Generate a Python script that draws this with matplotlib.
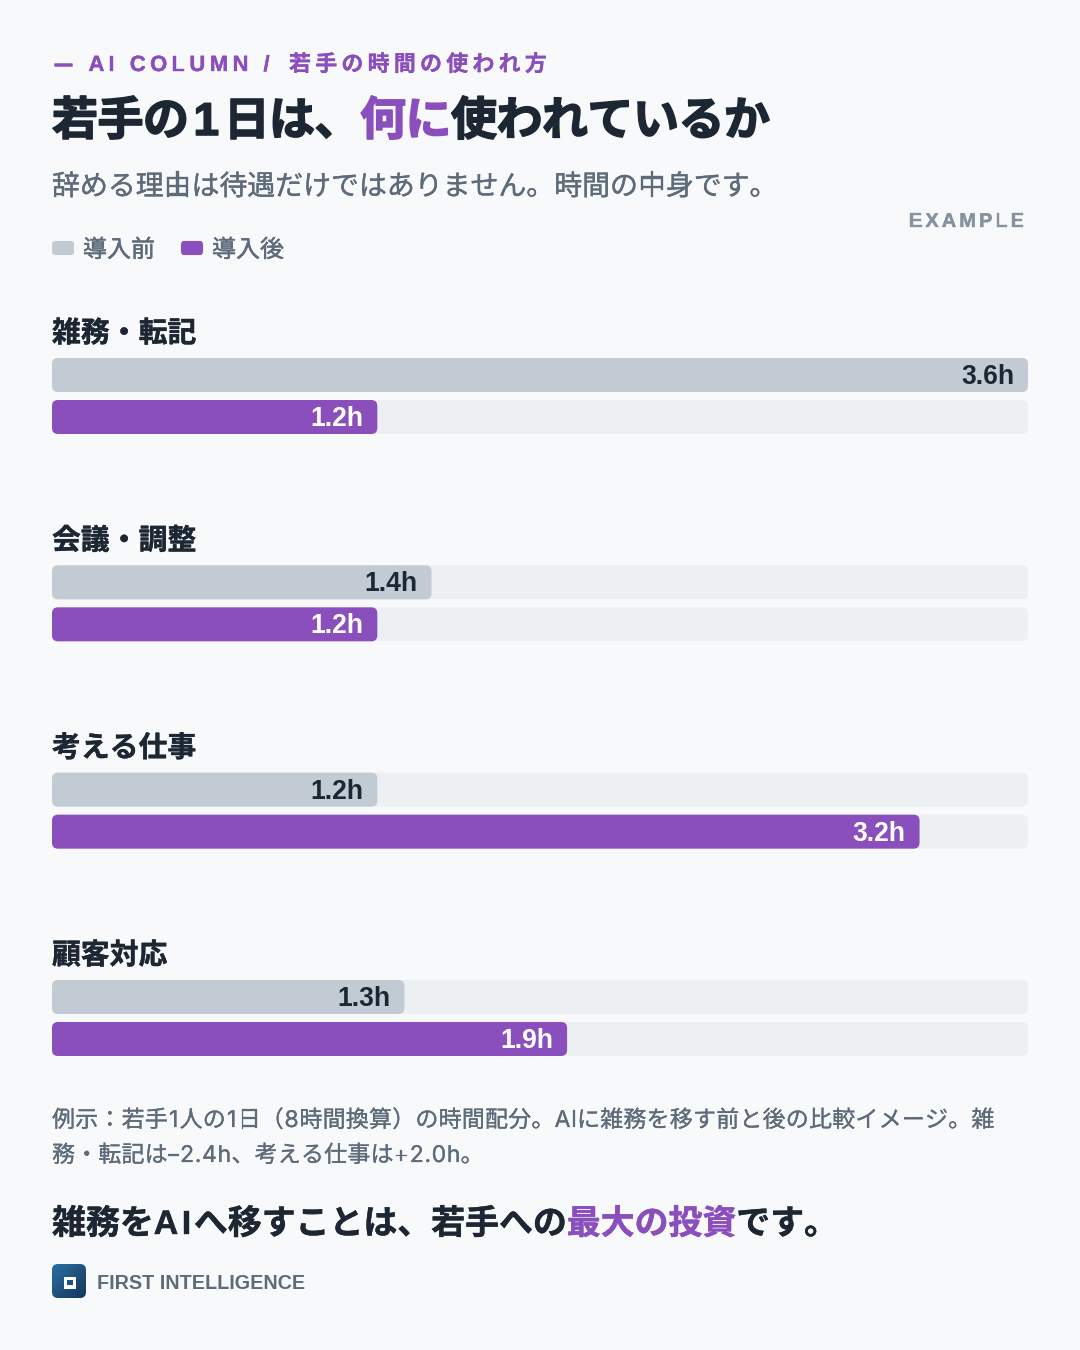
import numpy as np
import matplotlib
matplotlib.use("Agg")
import matplotlib.pyplot as plt
import matplotlib.patheffects as pe
from matplotlib.patches import FancyBboxPatch
from matplotlib.text import Text
from matplotlib.font_manager import FontProperties
from matplotlib.transforms import Bbox, IdentityTransform

categories = ["雑務・転記", "会議・調整", "考える仕事", "顧客対応"]
before_hours = [3.6, 1.4, 1.2, 1.3]
after_hours = [1.2, 1.2, 3.2, 1.9]
legend_labels = ["導入前", "導入後"]
scale_max = 3.6

W, H = 1080, 1350
BG = "#f8f9fb"; TRACK = "#edf0f3"; BEFORE = "#c2cad4"; AFTER = "#8a4fbd"
DARK = "#1c2733"; GRAY = "#5d6b7a"; LIGHTGRAY = "#87929f"
FAM = ["Liberation Sans", "Noto Sans CJK JP"]
FAM_INTER = ["Inter", "Noto Sans CJK JP"]

fig = plt.figure(figsize=(W / 100, H / 100), dpi=100, facecolor=BG)
renderer = fig.canvas.get_renderer()


def fp(size_px, weight, family=FAM):
    return FontProperties(family=family, weight=weight, size=size_px * 0.72)


def advance(c, prop):
    a = renderer.get_text_width_height_descent("H" + c + "H", prop, False)[0]
    b = renderer.get_text_width_height_descent("HH", prop, False)[0]
    return a - b


def stroke_fx(width, color):
    return [pe.withStroke(linewidth=width * 0.72, foreground=color)] if width else []


class TrackedText(Text):
    """One text artist whose glyphs are drawn with letter spacing."""

    def __init__(self, x_px, y_px, s, prop, color, tracking, wide=None, stroke=0.0):
        super().__init__(x_px, H - y_px, s, fontproperties=prop, color=color,
                         ha="left", va="baseline", transform=IdentityTransform())
        self.tracking = tracking
        self.wide = wide or {}
        self.stroke = stroke

    def steps(self):
        prop = self.get_fontproperties()
        x = 0.0
        for c in self.get_text():
            pad = self.wide.get(c, 0.0)
            x += pad / 2
            yield c, x
            x += advance(c, prop) + self.tracking + pad / 2

    def total_width(self):
        prop = self.get_fontproperties()
        return sum(advance(c, prop) + self.tracking + self.wide.get(c, 0.0) for c in self.get_text())

    def draw(self, rend):
        x, y = self.get_position()
        for c, dx in self.steps():
            if c != " ":
                g = Text(x + dx, y, c, fontproperties=self.get_fontproperties(), color=self.get_color(),
                         ha="left", va="baseline", transform=IdentityTransform())
                g.set_figure(self.get_figure())
                g.set_path_effects(stroke_fx(self.stroke, self.get_color()))
                g.draw(rend)

    def get_window_extent(self, renderer=None, dpi=None):
        x, y = self.get_position()
        size = self.get_fontproperties().get_size_in_points() / 0.72
        return Bbox.from_extents(x, y - 0.12 * size, x + self.total_width(), y + 0.88 * size)


def put(x, y, segments, size, weight, tracking=0.0, wide=None, stroke=0.0, family=FAM):
    prop = fp(size, weight, family)
    for s, color in segments:
        t = TrackedText(x, y, s, prop, color, tracking, wide, stroke)
        fig.add_artist(t)
        t.set_transform(IdentityTransform())
        x += t.total_width()
    return x


# header
put(55, 69.5, [("—", AFTER)], 17, "bold", stroke=1.5)
put(88.5, 71, [("AI COLUMN / ", AFTER)], 22, "bold", 4.4, stroke=0.4)
put(289, 71, [("若手の時間の使われ方", AFTER)], 22, "bold", 4.2, stroke=0.2)
put(52, 135, [("若手の1日は、", DARK), ("何に", AFTER), ("使われているか", DARK)], 46, "bold", -0.5,
    wide={"1": 10}, stroke=1.6)
put(52, 195, [("辞める理由は待遇だけではありません。時間の中身です。", GRAY)], 28, "regular", -0.1, stroke=0.35)
put(909, 227, [("EXAMPLE", LIGHTGRAY)], 20, "bold", 3.0, stroke=0.4)

# full-figure overlay for legend swatches, in pixel units
ov = fig.add_axes([0, 0, 1, 1], facecolor="none")
ov.set_xlim(0, W); ov.set_ylim(H, 0); ov.axis("off")
for x0, col, lab in zip([52, 181], [BEFORE, AFTER], legend_labels):
    ov.add_patch(FancyBboxPatch((x0, 241), 22, 14, boxstyle="round,pad=0,rounding_size=3",
                                fc=col, ec="none"))
    put(x0 + 31, 257, [(lab, GRAY)], 24, "regular", 0.0, stroke=0.5)

# bars
TOP, BOTTOM, LEFT, RIGHT = 358, 1056, 52, 1028
ax = fig.add_axes([LEFT / W, 1 - BOTTOM / H, (RIGHT - LEFT) / W, (BOTTOM - TOP) / H], facecolor="none")
ax.set_xlim(0, scale_max); ax.set_ylim(BOTTOM - TOP, 0); ax.axis("off")
px_per_hour = (RIGHT - LEFT) / scale_max
PITCH, BAR_H, OFFSET = 207.33, 34, 42


def rbar(v, y, color):
    ax.add_patch(FancyBboxPatch((0, y), v, BAR_H,
                                boxstyle=f"round,pad=0,rounding_size={6 / px_per_hour}",
                                mutation_aspect=px_per_hour, fc=color, ec="none", clip_on=False))


for i, (cat, b, a) in enumerate(zip(categories, before_hours, after_hours)):
    y0 = i * PITCH
    put(LEFT, TOP + y0 - 16, [(cat, DARK)], 28.8, "bold", 0.1, stroke=0.4)
    for y, v, col, tc in [(y0, b, BEFORE, DARK), (y0 + OFFSET, a, AFTER, "white")]:
        rbar(scale_max, y, TRACK)
        rbar(v, y, col)
        ax.annotate(f"{v:.1f}h", xy=(v, y + BAR_H / 2), xytext=(-14, 1), textcoords="offset pixels",
                    ha="right", va="center_baseline", fontproperties=fp(26.5, "bold"), color=tc)

# footnote and takeaway
put(52, 1127, [("例示：若手1人の1日（8時間換算）の時間配分。AIに雑務を移す前と後の比較イメージ。雑", GRAY)],
    23, "regular", 0.2, wide={"1": 2, "8": 1}, stroke=0.25, family=FAM_INTER)
put(52, 1162, [("務・転記は–2.4h、考える仕事は+2.0h。", GRAY)], 23, "regular", 0.2,
    wide={"2": 1, "4": 1, "0": 1}, stroke=0.25, family=FAM_INTER)
put(52, 1234, [("雑務をAIへ移すことは、若手への", DARK), ("最大の投資", AFTER), ("です。", DARK)], 34, "bold",
    -0.1, wide={"I": 6.5}, stroke=0.4)

# logo
logo = fig.add_axes([52 / W, 1 - 1298 / H, 34 / W, 34 / H], facecolor="none")
logo.set_xlim(0, 34); logo.set_ylim(34, 0); logo.axis("off")
gx, gy = np.meshgrid(np.linspace(0, 1, 64), np.linspace(0, 1, 64))
im = logo.imshow((gx + gy) / 2, extent=(0, 34, 34, 0), aspect="auto", zorder=1,
                 cmap=matplotlib.colors.LinearSegmentedColormap.from_list("logo", ["#2c6fa3", "#14365a"]))
clip = FancyBboxPatch((0, 0), 34, 34, boxstyle="round,pad=0,rounding_size=6", fc="none", ec="none",
                      transform=logo.transData)
logo.add_patch(clip)
im.set_clip_path(clip)
logo.add_patch(plt.Rectangle((11.5, 12.5), 12.5, 12, fc="white", ec="none", zorder=2))
logo.add_patch(plt.Rectangle((15, 16), 5.5, 5, fc="#1f5480", ec="none", zorder=3))
fig.text(97 / W, 1 - 1289 / H, "FIRST INTELLIGENCE", fontproperties=fp(19.8, "bold"), color=GRAY,
         ha="left", va="baseline")

fig.savefig("out.png", dpi=100, facecolor=BG)
